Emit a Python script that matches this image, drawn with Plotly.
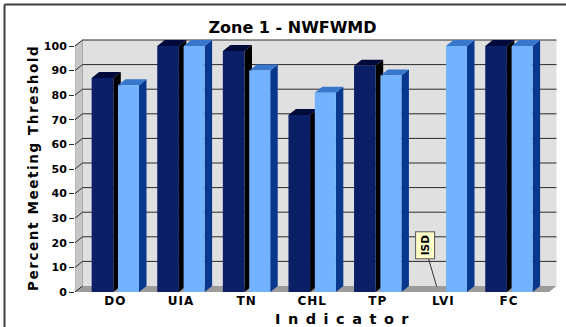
import plotly.graph_objects as go

# ---- data -------------------------------------------------------------
categories = ["DO", "UIA", "TN", "CHL", "TP", "LVI", "FC"]
series_dark = [87, 100, 98, 72, 92, None, 100]   # LVI: insufficient data (ISD)
series_light = [84, 100, 90, 81, 88, 100, 100]
y_ticks = [0, 10, 20, 30, 40, 50, 60, 70, 80, 90, 100]

# ---- geometry of the pseudo-3D frame ----------------------------------
W, H = 566, 327
L_PX, B_PX = 75, 35            # plot-area left edge / bottom margin (px)
CAT_PX = 65.6                  # px per category
X0_PX = 115.4                  # px of first category centre
UNIT_PX = 2.46                 # px per percent
DX = 7.5 / CAT_PX              # depth offset in x (data units)
DY = 6.0 / UNIT_PX             # depth offset in y (data units)

x_range = [(L_PX - X0_PX) / CAT_PX, (W - X0_PX) / CAT_PX]
y_range = [0, (H - B_PX) / UNIT_PX]
x_front_left = x_range[0]
x_front_right = (549 - X0_PX) / CAT_PX
y_top = max(y_ticks)

DARK_OFF, DARK_W = -0.362, 0.33
LIGHT_OFF, LIGHT_W = 0.04, 0.32

DARK_FRONT, DARK_SIDE, DARK_TOP = "#0B1F66", "#000000", "#000A3A"
LIGHT_FRONT, LIGHT_SIDE, LIGHT_TOP = "#72B2FF", "#08388E", "#3777CC"
WALL, SIDE_WALL, FLOOR, GRID = "#E0E0E0", "#C6C6C6", "#9C9C9C", "#2A2A2A"

BOLD = dict(family="DejaVu Sans", weight=700, color="#000000")


def poly(points):
    return "M " + " L ".join(f"{x},{y}" for x, y in points) + " Z"


shapes = []

# back wall
shapes.append(dict(type="path", xref="x", yref="y", layer="below",
                   path=poly([(x_front_left + DX, DY), (x_front_right + DX, DY),
                              (x_front_right + DX, y_top + DY), (x_front_left + DX, y_top + DY)]),
                   fillcolor=WALL, line=dict(width=0)))
# left wall
shapes.append(dict(type="path", xref="x", yref="y", layer="below",
                   path=poly([(x_front_left, 0), (x_front_left, y_top),
                              (x_front_left + DX, y_top + DY), (x_front_left + DX, DY)]),
                   fillcolor=SIDE_WALL, line=dict(color="#A8A8A8", width=1)))
# floor
shapes.append(dict(type="path", xref="x", yref="y", layer="below",
                   path=poly([(x_front_left, 0), (x_front_right, 0),
                              (x_front_right + DX, DY), (x_front_left + DX, DY)]),
                   fillcolor=FLOOR, line=dict(width=0)))
# gridlines on back wall and left wall
for v in y_ticks:
    if v > 0:
        shapes.append(dict(type="line", xref="x", yref="y", layer="below",
                           x0=x_front_left + DX, x1=x_front_right + DX, y0=v + DY, y1=v + DY,
                           line=dict(color=GRID, width=1)))
    shapes.append(dict(type="line", xref="x", yref="y", layer="below",
                       x0=x_front_left, x1=x_front_left + DX, y0=v, y1=v + DY,
                       line=dict(color=GRID, width=1)))


def bar_faces(xc, off, w, v, side_col, top_col):
    if v is None:
        return
    x0, x1 = xc + off, xc + off + w
    shapes.append(dict(type="path", xref="x", yref="y", layer="below",
                       path=poly([(x1, 0), (x1, v), (x1 + DX, v + DY), (x1 + DX, DY)]),
                       fillcolor=side_col, line=dict(width=0)))
    shapes.append(dict(type="path", xref="x", yref="y", layer="below",
                       path=poly([(x0, v), (x1, v), (x1 + DX, v + DY), (x0 + DX, v + DY)]),
                       fillcolor=top_col, line=dict(width=0)))


for i in range(len(categories)):
    bar_faces(i, DARK_OFF, DARK_W, series_dark[i], DARK_SIDE, DARK_TOP)
    bar_faces(i, LIGHT_OFF, LIGHT_W, series_light[i], LIGHT_SIDE, LIGHT_TOP)

# outer frame (left and top edges)
shapes.append(dict(type="line", xref="paper", yref="paper",
                   x0=(4.5 - L_PX) / (W - L_PX), x1=(4.5 - L_PX) / (W - L_PX),
                   y0=1 - 4.5 / (H - B_PX), y1=-B_PX / (H - B_PX),
                   line=dict(color="#3C3C3C", width=2)))
shapes.append(dict(type="line", xref="paper", yref="paper",
                   x0=(4.5 - L_PX) / (W - L_PX), x1=1.0,
                   y0=1 - 4.5 / (H - B_PX), y1=1 - 4.5 / (H - B_PX),
                   line=dict(color="#3C3C3C", width=2)))

xs = list(range(len(categories)))
fig = go.Figure()
fig.add_trace(go.Bar(x=xs, y=series_dark, offset=DARK_OFF, width=DARK_W,
                     marker=dict(color=DARK_FRONT, line=dict(width=0)), showlegend=False))
fig.add_trace(go.Bar(x=xs, y=series_light, offset=LIGHT_OFF, width=LIGHT_W,
                     marker=dict(color=LIGHT_FRONT, line=dict(width=0)), showlegend=False))


def px_to_paper_x(px):
    return (px - L_PX) / (W - L_PX)


def px_to_paper_y(py):
    return 1 - py / (H - B_PX)


annotations = [
    dict(text='<span style="letter-spacing:1.6px">Percent Meeting Threshold</span>',
         xref="paper", yref="paper", x=px_to_paper_x(33), y=px_to_paper_y(168),
         textangle=-90, showarrow=False, font=dict(size=13.5, **BOLD),
         xanchor="center", yanchor="middle"),
    dict(text='<span style="letter-spacing:7.5px">Indicator</span>',
         xref="paper", yref="paper", x=px_to_paper_x(345), y=px_to_paper_y(318.5),
         showarrow=False, font=dict(size=14.5, **BOLD),
         xanchor="center", yanchor="middle"),
    dict(text="ISD", xref="x", yref="y",
         x=5 + (436.7 - (X0_PX + 5 * CAT_PX)) / CAT_PX, y=2.2,
         ax=-12, ay=-41, showarrow=True, arrowhead=0, arrowwidth=1,
         arrowcolor="#333333", standoff=0, textangle=-90,
         bgcolor="#FFFFC8", bordercolor="#555555", borderwidth=1, borderpad=3,
         font=dict(size=10.5, **BOLD)),
]

fig.update_layout(
    width=W, height=H,
    margin=dict(l=L_PX, r=0, t=0, b=B_PX, autoexpand=False),
    paper_bgcolor="white", plot_bgcolor="rgba(0,0,0,0)",
    barmode="overlay",
    title=dict(text="Zone 1 - NWFWMD", x=292.5 / W, y=1 - 27 / H,
               xanchor="center", yanchor="middle", xref="container", yref="container",
               font=dict(size=16, **BOLD)),
    xaxis=dict(range=x_range, tickvals=xs,
               ticktext=[f'<span style="letter-spacing:1px">{c}</span>' for c in categories],
               showgrid=False, zeroline=False, showline=False, ticks="",
               ticklabelstandoff=0,
               tickfont=dict(size=12, **BOLD), automargin=False, fixedrange=True),
    yaxis=dict(range=y_range, tickvals=y_ticks, showgrid=False, zeroline=False,
               showline=False, ticks="outside", ticklen=5, tickcolor=GRID, tickwidth=1,
               tickfont=dict(size=11, **BOLD), automargin=False, fixedrange=True),
    shapes=shapes,
    annotations=annotations,
)

fig.write_html("out.html")
